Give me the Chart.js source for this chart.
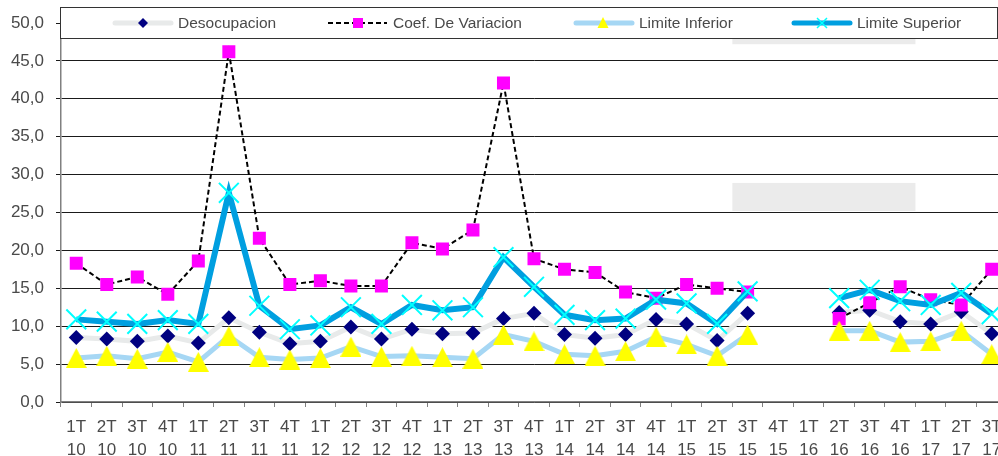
<!DOCTYPE html>
<html>
<head>
<meta charset="utf-8">
<script src="https://cdn.jsdelivr.net/npm/chart.js@4"></script>
<style>
  html, body { margin: 0; padding: 0; background: #fff; overflow: hidden; }
  #wrap { width: 1007px; height: 456px; position: relative; }
  #chart { display: block; }
</style>
</head>
<body>
<div id="wrap"><canvas id="chart" width="1007" height="456"></canvas></div>
<script>
// Quarters and years (two-line tick labels)
const quarters = ["1T","2T","3T","4T","1T","2T","3T","4T","1T","2T","3T","4T","1T","2T","3T","4T",
                  "1T","2T","3T","4T","1T","2T","3T","4T","1T","2T","3T","4T","1T","2T","3T"];
const years = ["10","10","10","10","11","11","11","11","12","12","12","12","13","13","13","13",
               "14","14","14","14","15","15","15","15","16","16","16","16","17","17","17"];

// Series values (null = no data: 4T15, 1T16)
const desocupacion = [8.5, 8.3, 8.0, 8.7, 7.8, 11.1, 9.2, 7.7, 8.0, 9.9, 8.3, 9.6, 9.0, 9.1, 11.0, 11.7,
                      8.9, 8.4, 8.9, 10.9, 10.3, 8.1, 11.7, null, null, 11.8, 12.1, 10.6, 10.3, 11.9, 9.0];
const coefVariacion = [18.3, 15.5, 16.5, 14.2, 18.6, 46.2, 21.6, 15.5, 16.0, 15.3, 15.3, 21.0, 20.2, 22.7, 42.1, 18.9,
                       17.5, 17.1, 14.5, 13.7, 15.5, 15.0, 14.5, null, null, 11.0, 13.1, 15.2, 13.5, 12.8, 17.5];
const limiteInferior = [5.8, 6.1, 5.7, 6.6, 5.3, 8.7, 5.9, 5.6, 5.8, 7.3, 6.0, 6.1, 5.9, 5.7, 8.9, 8.0,
                        6.3, 6.1, 6.7, 8.6, 7.6, 6.1, 8.9, null, null, 9.4, 9.4, 7.9, 8.0, 9.4, 6.3];
const limiteSuperior = [10.9, 10.6, 10.3, 10.8, 10.3, 27.6, 12.7, 9.6, 10.1, 12.5, 10.3, 12.8, 12.1, 12.5, 19.1, 15.2,
                        11.5, 10.8, 11.0, 13.5, 13.0, 10.3, 14.6, null, null, 13.7, 14.8, 13.3, 12.8, 14.4, 11.6];

const seriesNames = ["Desocupacion", "Coef. De Variacion", "Limite Inferior", "Limite Superior"];

// Y axis ticks
const yMin = 0, yMax = 50, yStep = 5;

// Stray grey boxes seen in the original (category index range, value range)
const shadeBoxes = [
  { from: 22, to: 27, top: 48.6, bottom: 47.2 },
  { from: 22, to: 27, top: 28.9, bottom: 25.2 }
];

const labels = quarters.map((q, i) => [q, years[i]]);
const FONT = "'Liberation Sans', Arial, sans-serif";
const TEXT = "#4a4a4a";

// yellow triangle marker, centred like Excel's
function makeTriangle(w, h, color) {
  const c = document.createElement("canvas");
  c.width = w; c.height = h;
  const g = c.getContext("2d");
  g.fillStyle = color;
  g.beginPath();
  g.moveTo(w / 2, 0);
  g.lineTo(w, h);
  g.lineTo(0, h);
  g.closePath();
  g.fill();
  return c;
}
const bigTriangle = makeTriangle(21, 20, "#ffff00");

const shadePlugin = {
  id: "shade",
  beforeDatasetsDraw(chart) {
    const { ctx, scales: { x, y } } = chart;
    const half = (x.getPixelForValue(1) - x.getPixelForValue(0)) / 2;
    ctx.save();
    ctx.fillStyle = "#ebebeb";
    shadeBoxes.forEach(b => {
      const l = x.getPixelForValue(b.from) - half;
      const r = x.getPixelForValue(b.to) + half;
      const t = y.getPixelForValue(b.top);
      const bt = y.getPixelForValue(b.bottom);
      ctx.fillRect(l, t, r - l, bt - t);
    });
    ctx.restore();
  }
};

// Legend box drawn inside the plot, like the Excel one
const legendPlugin = {
  id: "boxLegend",
  afterDraw(chart) {
    const ctx = chart.ctx;
    const top = 7.5, h = 31, cy = 23;
    ctx.save();
    ctx.fillStyle = "#fff";
    ctx.fillRect(60.5, top, 937, h);
    ctx.strokeStyle = "#333";
    ctx.lineWidth = 1;
    ctx.strokeRect(60.5, top, 937, h);

    function sample(x0, x1, color, width, dash) {
      ctx.save();
      ctx.strokeStyle = color;
      ctx.lineWidth = width;
      ctx.lineCap = dash ? "butt" : "round";
      ctx.setLineDash(dash || []);
      ctx.beginPath();
      ctx.moveTo(x0, cy);
      ctx.lineTo(x1, cy);
      ctx.stroke();
      ctx.restore();
    }

    // Desocupacion
    sample(115, 171, "#e8eaea", 5);
    ctx.fillStyle = "#000080";
    ctx.beginPath();
    ctx.moveTo(143, cy - 5); ctx.lineTo(148, cy); ctx.lineTo(143, cy + 5); ctx.lineTo(138, cy);
    ctx.closePath(); ctx.fill();

    // Coef. De Variacion
    sample(328, 387, "#000", 2, [5, 3]);
    ctx.fillStyle = "#ff00ff";
    ctx.fillRect(353, cy - 5, 10, 10);

    // Limite Inferior
    sample(576, 632, "#a6d7f4", 5);
    ctx.fillStyle = "#ffff00";
    ctx.beginPath();
    ctx.moveTo(603, cy - 6); ctx.lineTo(608.5, cy + 5); ctx.lineTo(597.5, cy + 5);
    ctx.closePath(); ctx.fill();

    // Limite Superior
    sample(794, 850, "#009fe0", 5);
    ctx.strokeStyle = "#00ffff";
    ctx.lineWidth = 1.5;
    ctx.beginPath();
    ctx.moveTo(817, cy - 5); ctx.lineTo(827, cy + 5);
    ctx.moveTo(827, cy - 5); ctx.lineTo(817, cy + 5);
    ctx.stroke();

    ctx.fillStyle = TEXT;
    ctx.font = "15.5px " + FONT;
    ctx.textBaseline = "middle";
    ctx.fillText(seriesNames[0], 178, cy + 1);
    ctx.fillText(seriesNames[1], 393, cy + 1);
    ctx.fillText(seriesNames[2], 639, cy + 1);
    ctx.fillText(seriesNames[3], 857, cy + 1);
    ctx.restore();
  }
};

const config = {
  type: "line",
  data: {
    labels: labels,
    datasets: [
      {
        label: seriesNames[0],
        data: desocupacion,
        borderColor: "#e8eaea",
        borderWidth: 5,
        pointStyle: "rectRot",
        pointRadius: 7.5,
        pointBackgroundColor: "#000080",
        pointBorderColor: "#000080",
        pointBorderWidth: 0,
        order: 4
      },
      {
        label: seriesNames[1],
        data: coefVariacion,
        borderColor: "#000",
        borderWidth: 2,
        borderDash: [5, 3],
        pointStyle: "rect",
        pointRadius: 9.2,
        pointBackgroundColor: "#ff00ff",
        pointBorderColor: "#ff00ff",
        pointBorderWidth: 0,
        order: 3
      },
      {
        label: seriesNames[2],
        data: limiteInferior,
        borderColor: "#a6d7f4",
        borderWidth: 5,
        pointStyle: bigTriangle,
        order: 2
      },
      {
        label: seriesNames[3],
        data: limiteSuperior,
        borderColor: "#009fe0",
        borderWidth: 6,
        pointStyle: "crossRot",
        pointRadius: 14,
        pointBorderColor: "#00ffff",
        pointBorderWidth: 2,
        order: 1
      }
    ]
  },
  options: {
    responsive: false,
    animation: false,
    devicePixelRatio: 1,
    spanGaps: false,
    layout: { autoPadding: false, padding: { top: 23, left: 0, right: 0, bottom: 0 } },
    elements: { line: { tension: 0 } },
    plugins: {
      legend: { display: false },
      tooltip: { enabled: false }
    },
    scales: {
      x: {
        offset: true,
        grid: {
          drawOnChartArea: false,
          drawTicks: true,
          tickLength: 5,
          color: "#808080",
          offset: true
        },
        border: { display: true, color: "#808080", width: 1.5 },
        ticks: {
          color: TEXT,
          font: { family: FONT, size: 17, lineHeight: 1.4 },
          padding: 8,
          maxRotation: 0,
          autoSkip: false
        },
        afterFit(scale) {
          scale.height = 54;
          // the plot runs off the right edge, no room kept for the last label
          scale.paddingLeft = 0;
          scale.paddingRight = 0;
        }
      },
      y: {
        min: yMin,
        max: yMax,
        grid: {
          color: "#1a1a1a",
          lineWidth: 1,
          tickLength: 5
        },
        border: { display: true, color: "#808080", width: 1.5 },
        ticks: {
          stepSize: yStep,
          color: TEXT,
          font: { family: FONT, size: 17 },
          padding: 12,
          callback: v => v.toFixed(1).replace(".", ",")
        },
        afterFit(scale) { scale.width = 61; }
      }
    }
  },
  plugins: [shadePlugin, legendPlugin]
};

new Chart(document.getElementById("chart").getContext("2d"), config);
</script>
</body>
</html>
